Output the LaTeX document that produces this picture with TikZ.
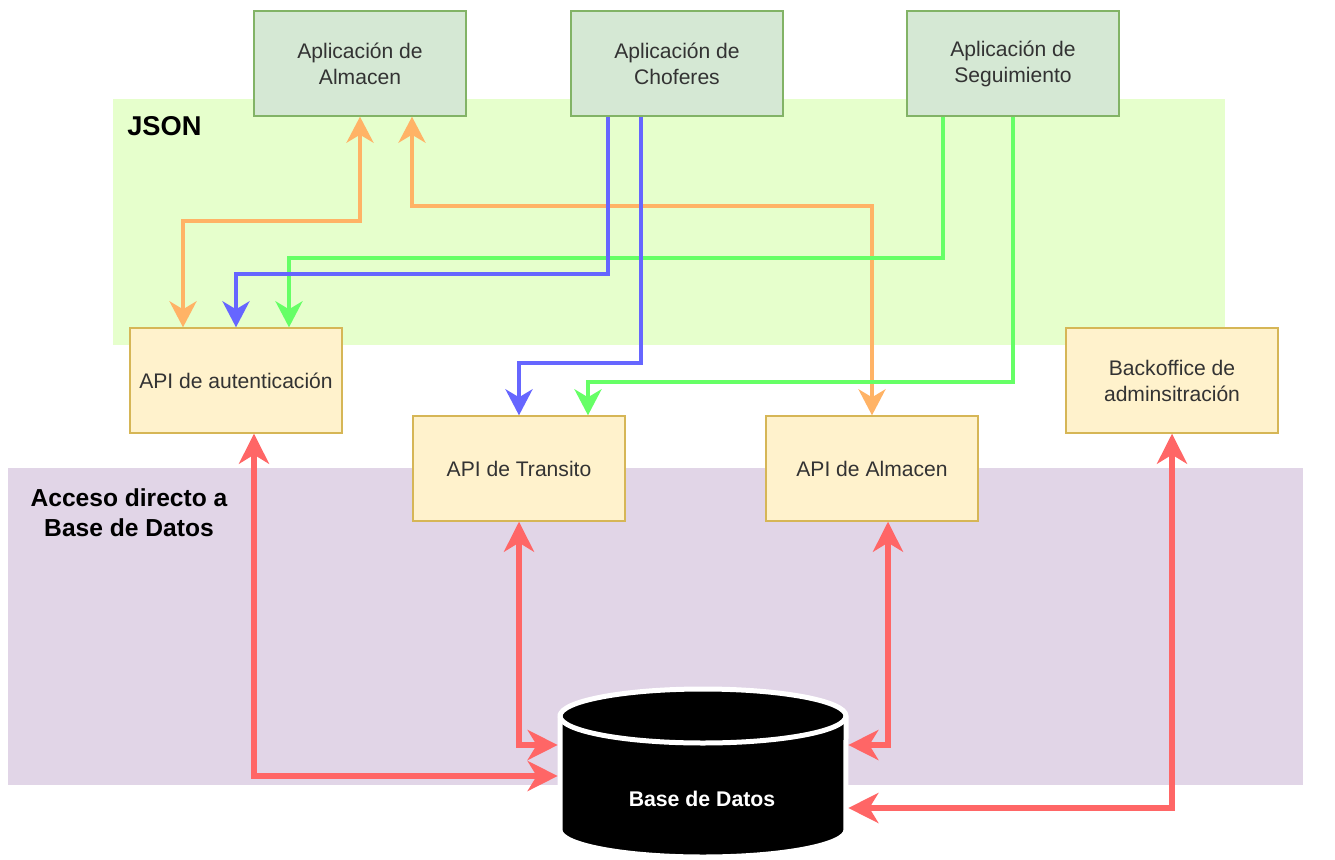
\documentclass[tikz,border=0pt]{standalone}
\usepackage{fontspec}
\setmainfont{Liberation Sans}
\usepackage{xcolor}
\usetikzlibrary{calc}
\usetikzlibrary{arrows.meta}
\definecolor{fondojson}{HTML}{E6FFCC}
\definecolor{fondobd}{HTML}{E1D5E7}
\definecolor{appfill}{HTML}{D5E8D4}
\definecolor{appborde}{HTML}{82B366}
\definecolor{apifill}{HTML}{FFF2CC}
\definecolor{apiborde}{HTML}{D6B656}
\definecolor{naranja}{HTML}{FFB366}
\definecolor{azul}{HTML}{6666FF}
\definecolor{verde}{HTML}{66FF66}
\definecolor{rojo}{HTML}{FF6666}
\definecolor{texto}{HTML}{333333}
\tikzset{>={Stealth[length=0.52cm,width=0.54cm,inset=0.16cm]}}
\tikzset{
	caja/.style={draw,line width=0.8pt,minimum width=4.24cm,minimum height=2.1cm,align=center,text=texto,font=\fontsize{12}{14.8}\selectfont},
	app/.style={caja,fill=appfill,draw=appborde},
	api/.style={caja,fill=apifill,draw=apiborde},
	json/.style={line width=0.08cm},
	bdlinea/.style={line width=0.12cm,rojo,<->,>={Stealth[length=0.6cm,width=0.6cm,inset=0.18cm]}},
}

\begin{document}
\begin{tikzpicture}[x=0.02cm,y=-0.02cm]
	\useasboundingbox (0,0) rectangle (1335,859);
	% fondos
	\fill[fondojson] (113,99) rectangle (1225,345);
	\fill[fondobd] (8,468) rectangle (1303,785);
	\node[anchor=west,inner sep=0pt,font=\fontsize{15.5}{18}\selectfont\bfseries] (lbljson) at (127,126) {JSON};
	\node[align=center,font=\fontsize{14}{17}\selectfont\bfseries] (lblbd) at (129,513) {Acceso directo a\\Base de Datos};
	% aplicaciones
	\node[app] (appalmacen) at (360,63.5) {Aplicación de\\Almacen};
	\node[app] (appchoferes) at (677,63.5) {Aplicación de\\Choferes};
	\node[app] (appseguimiento) at (1013,63.5) {Aplicación de\\Seguimiento};
	% apis
	\node[api] (apiauth) at (236,380.5) {API de autenticación};
	\node[api] (apitransito) at (519,468.5) {API de Transito};
	\node[api] (apialmacen) at (872,468.5) {API de Almacen};
	\node[api] (backoffice) at (1172,380.5) {Backoffice de\\adminsitración};
	% base de datos
	\node[minimum width=5.72cm,minimum height=3.34cm] (bd) at (703,773) {};
	\fill[black,draw=white,line width=0.1cm] (560,716) -- (560,830) arc[start angle=180,end angle=360,x radius=2.86cm,y radius=0.54cm] -- (846,716) arc[start angle=0,end angle=180,x radius=2.86cm,y radius=0.54cm] -- cycle;
	\draw[white,line width=0.1cm] (560,716) arc[start angle=180,end angle=360,x radius=2.86cm,y radius=0.54cm];
	\node[text=white,font=\fontsize{12.1}{14}\selectfont\bfseries] (lbldb) at (702,799) {Base de Datos};
	% conexiones json
	\draw[json,naranja,<->] (appalmacen.south) -- ++(0,104) -| ([xshift=-1.06cm]apiauth.north);
	\draw[json,naranja,<->] ([xshift=1.04cm]appalmacen.south) -- ++(0,89) -| (apialmacen.north);
	\draw[json,verde,->] ([xshift=-1.4cm]appseguimiento.south) -- ++(0,141) -| ([xshift=1.06cm]apiauth.north);
	\draw[json,azul,->] ([xshift=-1.38cm]appchoferes.south) -- ++(0,157) -| (apiauth.north);
	\draw[json,azul,->] ([xshift=-0.72cm]appchoferes.south) -- ++(0,246) -| (apitransito.north);
	\draw[json,verde,->] (appseguimiento.south) -- ++(0,265) -| ([xshift=1.38cm]apitransito.north);
	% acceso a bd
	\draw[bdlinea] ([xshift=0.36cm]apiauth.south) |- ([yshift=-0.06cm,xshift=-0.04cm]bd.west);
	\draw[bdlinea] (apitransito.south) |- ([yshift=0.56cm,xshift=-0.04cm]bd.west);
	\draw[bdlinea] ([xshift=0.32cm]apialmacen.south) |- ([yshift=0.56cm,xshift=0.04cm]bd.east);
	\draw[bdlinea] (backoffice.south) |- ([yshift=-0.7cm,xshift=0.04cm]bd.east);
\end{tikzpicture}
\end{document}
